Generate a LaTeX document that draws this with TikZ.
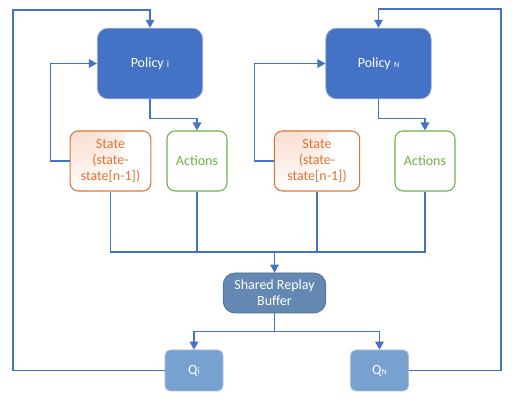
\documentclass[tikz,border=0pt]{standalone}
\usepackage{fontspec}
\setmainfont{Carlito}
\usetikzlibrary{arrows.meta,calc}
\definecolor{pol}{HTML}{4472C4}
\definecolor{polb}{HTML}{9AAED4}
\definecolor{stc}{HTML}{E07333}
\definecolor{stf}{HTML}{FADDD0}
\definecolor{act}{HTML}{70AD47}
\definecolor{buf}{HTML}{6388B2}
\definecolor{bufb}{HTML}{4D6F96}
\definecolor{qf}{HTML}{77A1CE}
\definecolor{qb}{HTML}{A8C0DE}
\begin{document}
\begin{tikzpicture}[x=0.75pt,y=-0.75pt,
  base/.style={font=\fontsize{10.5}{12.2}\selectfont, align=center, inner sep=1pt},
  policy/.style={base, fill=pol, draw=polb, line width=0.6pt, rounded corners=8pt, text=white, minimum width=79pt, minimum height=53pt},
  statebox/.style={base, draw=stc, fill=white, line width=0.8pt, rounded corners=6pt, text=stc, minimum height=45pt,
    path picture={\shade[inner color=stf, outer color=white] (path picture bounding box.north west) circle (55);}},
  actbox/.style={base, draw=act, fill=white, line width=0.8pt, rounded corners=6pt, text=act, minimum width=45pt, minimum height=45pt},
  bufbox/.style={base, fill=buf, draw=bufb, line width=0.6pt, rounded corners=9pt, text=white, minimum width=77pt, minimum height=30pt},
  qbox/.style={base, fill=qf, draw=qb, line width=0.6pt, rounded corners=4pt, text=white, minimum width=43.5pt, minimum height=30.75pt},
  conn/.style={draw=pol, line width=0.9pt},
  arr/.style={conn, -{Triangle[width=6.5pt,length=6pt]}}
]
\useasboundingbox (0,0) rectangle (515,402);
\node[policy] (Pi) at (150,63.5) {Policy {\fontsize{7.5}{8}\selectfont i}};
\node[policy] (PN) at (378.5,63.5) {Policy {\fontsize{6}{7}\selectfont N}};
\node[statebox, minimum width=60.5pt] (Si) at (110.5,161) {State\\(state-\\state[n-1])};
\node[statebox, minimum width=64pt] (SN) at (317,161) {State\\(state-\\state[n-1])};
\node[actbox] (Ai) at (197,161) {Actions};
\node[actbox] (AN) at (425,161) {Actions};
\node[bufbox] (B) at (274.5,293) {Shared Replay\\Buffer};
\node[qbox] (Qi) at (194,370.5) {Q{\fontsize{7.5}{8}\selectfont i}};
\node[qbox] (QN) at (379.5,370.5) {Q{\fontsize{6}{7}\selectfont N}};
\coordinate (LL) at (13,10);
\coordinate (RR) at (501,9);
\coordinate (bus) at (274.5,252);
% outer loops
\draw[arr] (Qi.west) -| (LL) -| (Pi.north);
\draw[arr] (QN.east) -| (RR) -| (PN.north);
% state feedback
\draw[arr] (Si.west) -- ++(-19,0) |- (Pi.west);
\draw[arr] (SN.west) -- ++(-19,0) |- (PN.west);
% policy to actions
\draw[arr] (Pi.south) -- ++(0,19) -| (Ai.north);
\draw[arr] (PN.south) -- ++(0,19) -| (AN.north);
% bus
\draw[conn] (Si.south) |- (AN.south |- bus) -- (AN.south);
\draw[conn] (Ai.south) -- (Ai.south |- bus);
\draw[conn] (SN.south) -- (SN.south |- bus);
\draw[arr] (bus) -- (B.north);
% buffer to Q
\draw[conn] (B.south) -- ++(0,18) coordinate (split);
\draw[arr] (split) -| (Qi.north);
\draw[arr] (split) -| (QN.north);
\end{tikzpicture}
\end{document}
